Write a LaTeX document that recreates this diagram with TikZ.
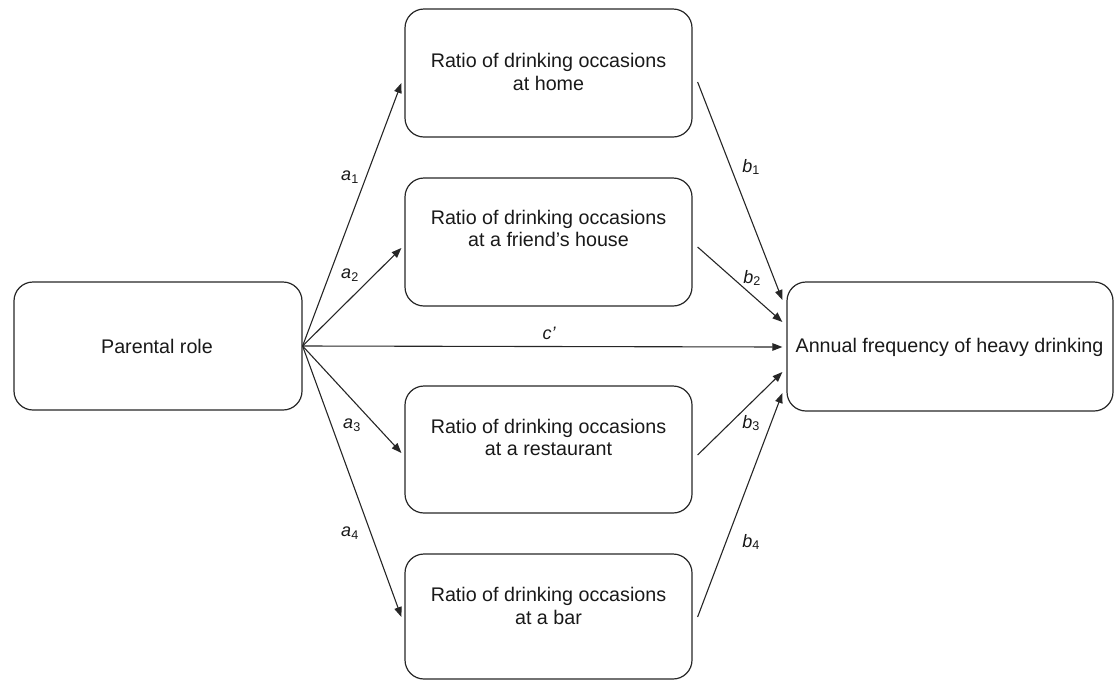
\documentclass[tikz,border=0pt]{standalone}
\usepackage{fontspec}
\setmainfont{Liberation Sans}
\usetikzlibrary{arrows.meta,calc}
\begin{document}
\begin{tikzpicture}[x=1pt,y=-1pt,
  box/.style={draw=black!85,line width=1.2pt,rounded corners=19pt,inner sep=0pt},
  txt/.style={align=center,font=\fontsize{19.7}{22.5}\selectfont,text=black!90},
  lab/.style={font=\fontsize{18}{20}\selectfont\itshape,text=black!90,inner sep=0pt},
  conn/.style={draw=black!85,line width=1.1pt,-{Triangle[length=10pt,width=7.5pt]}},
  plain/.style={draw=black!85,line width=1.1pt}]
\useasboundingbox (0,0) rectangle (1116,681);
% boxes
\node[box,minimum width=288pt,minimum height=128pt] (L) at (158,346) {};
\node[box,minimum width=287pt,minimum height=128pt] (M1) at (548.5,73) {};
\node[box,minimum width=287pt,minimum height=128pt] (M2) at (548.5,242) {};
\node[box,minimum width=287pt,minimum height=127pt] (M3) at (548.5,449.5) {};
\node[box,minimum width=287pt,minimum height=125pt] (M4) at (548.5,616.5) {};
\node[box,minimum width=326pt,minimum height=129pt] (R) at (950,346.5) {};
% texts
\node[txt] (tL) at (157,346) {Parental role};
\node[txt] (t1) at (548.5,72) {Ratio of drinking occasions\\at home};
\node[txt] (t2) at (548.5,228.5) {Ratio of drinking occasions\\at a friend's house};
\node[txt] (t3) at (548.5,437.5) {Ratio of drinking occasions\\at a restaurant};
\node[txt] (t4) at (548.5,606) {Ratio of drinking occasions\\at a bar};
\node[txt] (tR) at (949.5,347) {Annual frequency of heavy drinking};
% connector end points
\coordinate (i1) at ($(M1.west)+(-3,10)$);
\coordinate (i2) at ($(M2.west)+(-3,6)$);
\coordinate (i3) at ($(M3.west)+(-3,3.5)$);
\coordinate (i4) at ($(M4.west)+(-3,0.5)$);
\coordinate (o1) at ($(M1.east)+(5,9)$);
\coordinate (o2) at ($(M2.east)+(5,5)$);
\coordinate (o3) at ($(M3.east)+(5,5.5)$);
\coordinate (o4) at ($(M4.east)+(5,0.5)$);
\coordinate (r1) at ($(R.west)+(-4,-46.5)$);
\coordinate (r2) at ($(R.west)+(-4,-24.5)$);
\coordinate (r0) at ($(R.west)+(-4,0.5)$);
\coordinate (r3) at ($(R.west)+(-4,25.5)$);
\coordinate (r4) at ($(R.west)+(-4,46.5)$);
% connectors
\draw[conn] (L.east) -- (i1);
\draw[conn] (L.east) -- (i2);
\draw[conn] (L.east) -- (i3);
\draw[conn] (L.east) -- (i4);
\draw[conn] (L.east) -- (r0);
\draw[conn] (o1) -- (r1);
\draw[conn] (o2) -- (r2);
\draw[conn] (o3) -- (r3);
\draw[conn] (o4) -- (r4);
% labels
\node[lab] (la1) at (350,177) {a\textsubscript{\upshape 1}};
\node[lab] (la2) at (350,275) {a\textsubscript{\upshape 2}};
\node[lab] (la3) at (352,425) {a\textsubscript{\upshape 3}};
\node[lab] (la4) at (350,533) {a\textsubscript{\upshape 4}};
\node[lab] (lc) at (549,333) {c'};
\node[lab] (lb1) at (751,167) {b\textsubscript{\upshape 1}};
\node[lab] (lb2) at (752,278) {b\textsubscript{\upshape 2}};
\node[lab] (lb3) at (751,423) {b\textsubscript{\upshape 3}};
\node[lab] (lb4) at (751,542) {b\textsubscript{\upshape 4}};
\end{tikzpicture}
\end{document}
